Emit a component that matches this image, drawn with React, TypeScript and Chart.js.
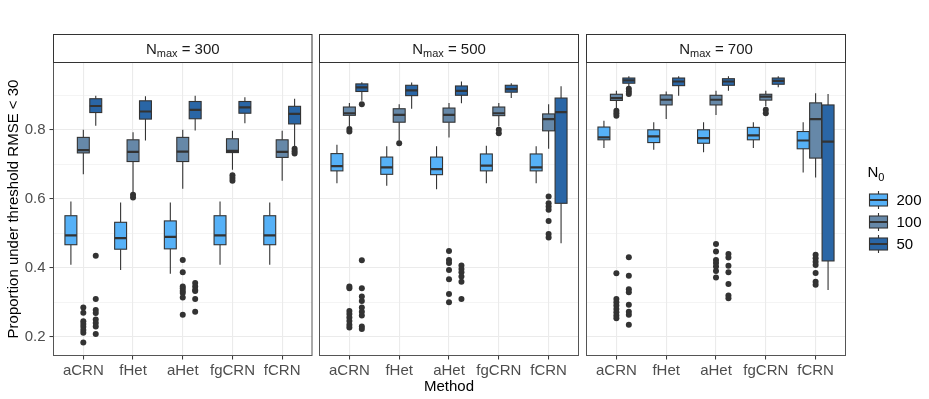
import React, { useEffect, useRef } from 'react';
import { Chart, registerables } from 'chart.js';

Chart.register(...registerables);

// ---------------- data ----------------
const methods = ['aCRN', 'fHet', 'aHet', 'fgCRN', 'fCRN'];
const nmaxValues = [300, 500, 700];
const n0Labels = ['200', '100', '50'];
const yTickLabels = [0.2, 0.4, 0.6, 0.8];
const yAxisTitle = 'Proportion under threshold RMSE < 30';
const xAxisTitle = 'Method';

// [lower whisker, Q1, median, Q3, upper whisker] for each method
const box300_n200 = [
  [0.409, 0.467, 0.494, 0.551, 0.592],
  [0.394, 0.454, 0.486, 0.532, 0.589],
  [0.383, 0.455, 0.490, 0.536, 0.589],
  [0.409, 0.467, 0.494, 0.551, 0.592],
  [0.409, 0.467, 0.494, 0.551, 0.589],
];
const box300_n100 = [
  [0.671, 0.733, 0.741, 0.778, 0.800],
  [0.616, 0.708, 0.736, 0.771, 0.793],
  [0.629, 0.708, 0.737, 0.778, 0.800],
  [0.684, 0.734, 0.739, 0.774, 0.797],
  [0.652, 0.720, 0.736, 0.771, 0.797],
];
const box300_n50 = [
  [0.812, 0.850, 0.869, 0.890, 0.899],
  [0.769, 0.831, 0.853, 0.884, 0.897],
  [0.798, 0.832, 0.858, 0.882, 0.899],
  [0.819, 0.848, 0.865, 0.882, 0.894],
  [0.752, 0.817, 0.846, 0.868, 0.890],
];

const box500_n200 = [
  [0.645, 0.681, 0.695, 0.731, 0.757],
  [0.638, 0.671, 0.691, 0.721, 0.752],
  [0.628, 0.670, 0.686, 0.721, 0.752],
  [0.645, 0.681, 0.696, 0.730, 0.754],
  [0.645, 0.681, 0.691, 0.730, 0.752],
];
const box500_n100 = [
  [0.810, 0.842, 0.848, 0.866, 0.878],
  [0.768, 0.822, 0.843, 0.861, 0.874],
  [0.778, 0.822, 0.843, 0.863, 0.878],
  [0.810, 0.841, 0.848, 0.866, 0.878],
  [0.745, 0.797, 0.831, 0.846, 0.874],
];
const box500_n50 = [
  [0.884, 0.911, 0.923, 0.933, 0.938],
  [0.861, 0.899, 0.914, 0.929, 0.937],
  [0.877, 0.900, 0.913, 0.927, 0.940],
  [0.892, 0.909, 0.918, 0.929, 0.935],
  [0.471, 0.587, 0.851, 0.892, 0.926],
];

const box700_n200 = [
  [0.747, 0.771, 0.778, 0.808, 0.826],
  [0.742, 0.763, 0.781, 0.800, 0.822],
  [0.735, 0.761, 0.776, 0.800, 0.822],
  [0.747, 0.771, 0.784, 0.807, 0.822],
  [0.676, 0.745, 0.769, 0.795, 0.822],
];
const box700_n100 = [
  [0.861, 0.885, 0.892, 0.903, 0.913],
  [0.831, 0.872, 0.887, 0.901, 0.911],
  [0.843, 0.872, 0.887, 0.900, 0.913],
  [0.868, 0.886, 0.896, 0.903, 0.913],
  [0.662, 0.718, 0.831, 0.878, 0.906],
];
const box700_n50 = [
  [0.923, 0.935, 0.943, 0.950, 0.955],
  [0.899, 0.928, 0.940, 0.950, 0.955],
  [0.913, 0.929, 0.940, 0.948, 0.955],
  [0.923, 0.932, 0.942, 0.950, 0.955],
  [0.336, 0.420, 0.766, 0.872, 0.904],
];

// outliers: [method index, N0 index (0=200,1=100,2=50), value]
const out300 = [
  [0, 1, 0.285], [0, 1, 0.270], [0, 1, 0.245], [0, 1, 0.237], [0, 1, 0.229], [0, 1, 0.220], [0, 1, 0.212], [0, 1, 0.184],
  [0, 2, 0.435], [0, 2, 0.310], [0, 2, 0.278], [0, 2, 0.269], [0, 2, 0.250], [0, 2, 0.240], [0, 2, 0.230], [0, 2, 0.208],
  [1, 1, 0.612], [1, 1, 0.604],
  [2, 1, 0.423], [2, 1, 0.387], [2, 1, 0.346], [2, 1, 0.340], [2, 1, 0.333], [2, 1, 0.327], [2, 1, 0.314], [2, 1, 0.264],
  [2, 2, 0.356], [2, 2, 0.346], [2, 2, 0.336], [2, 2, 0.333], [2, 2, 0.310], [2, 2, 0.273],
  [3, 1, 0.668], [3, 1, 0.660], [3, 1, 0.652],
  [4, 2, 0.745], [4, 2, 0.738], [4, 2, 0.731],
];
const out500 = [
  [0, 1, 0.802], [0, 1, 0.795], [0, 1, 0.346], [0, 1, 0.341], [0, 1, 0.275], [0, 1, 0.266], [0, 1, 0.256], [0, 1, 0.246], [0, 1, 0.235], [0, 1, 0.227],
  [0, 2, 0.874], [0, 2, 0.422], [0, 2, 0.341], [0, 2, 0.317], [0, 2, 0.304], [0, 2, 0.285], [0, 2, 0.273], [0, 2, 0.262], [0, 2, 0.230], [0, 2, 0.223],
  [1, 1, 0.761],
  [2, 1, 0.449], [2, 1, 0.423], [2, 1, 0.414], [2, 1, 0.394], [2, 1, 0.367], [2, 1, 0.324], [2, 1, 0.300],
  [2, 2, 0.407], [2, 2, 0.397], [2, 2, 0.387], [2, 2, 0.375], [2, 2, 0.360], [2, 2, 0.310],
  [3, 1, 0.800], [3, 1, 0.790],
  [4, 1, 0.607], [4, 1, 0.587], [4, 1, 0.578], [4, 1, 0.568], [4, 1, 0.536], [4, 1, 0.498], [4, 1, 0.488],
];
const out700 = [
  [0, 1, 0.855], [0, 1, 0.848], [0, 1, 0.841], [0, 1, 0.384], [0, 1, 0.310], [0, 1, 0.300], [0, 1, 0.291], [0, 1, 0.281], [0, 1, 0.271], [0, 1, 0.262], [0, 1, 0.254],
  [0, 2, 0.919], [0, 2, 0.911], [0, 2, 0.904], [0, 2, 0.431], [0, 2, 0.377], [0, 2, 0.338], [0, 2, 0.329], [0, 2, 0.293], [0, 2, 0.273], [0, 2, 0.264], [0, 2, 0.235],
  [2, 1, 0.469], [2, 1, 0.447], [2, 1, 0.423], [2, 1, 0.414], [2, 1, 0.404], [2, 1, 0.391], [2, 1, 0.372],
  [2, 2, 0.440], [2, 2, 0.430], [2, 2, 0.406], [2, 2, 0.387], [2, 2, 0.353], [2, 2, 0.320], [2, 2, 0.312],
  [3, 1, 0.858], [3, 1, 0.848],
  [4, 1, 0.438], [4, 1, 0.428], [4, 1, 0.418], [4, 1, 0.408], [4, 1, 0.385], [4, 1, 0.360], [4, 1, 0.351],
];

const boxStats = [
  [box300_n200, box300_n100, box300_n50],
  [box500_n200, box500_n100, box500_n50],
  [box700_n200, box700_n100, box700_n50],
];
const outliers = [out300, out500, out700];

// ---------------- layout & style ----------------
const W = 929;
const H = 399;
const FONT = '"Liberation Sans", Arial, Helvetica, sans-serif';
const PANEL_X = [
  [53.5, 312],
  [319.5, 578.5],
  [586.5, 845.5],
];
const PLOT_TOP = 62.5;
const PLOT_BOTTOM = 355.5;
const STRIP_TOP = 34.5;
const Y_MIN = 0.146;
const Y_MAX = 0.995;
const OFFSETS = [-0.25, 0, 0.25];
const BOX_W = 0.24;
const FILLS = ['#56B1F7', '#6688A8', '#2A66A6'];
const LINE = '#333333';
const GRID = '#EBEBEB';

const isMajorY = (v: number) => yTickLabels.some((t) => Math.abs(t - v) < 1e-6);

function drawBox(ctx: CanvasRenderingContext2D, xl: number, xr: number, xc: number, p: number[], fill: string) {
  const [lo, q1, md, q3, hi] = p;
  ctx.strokeStyle = LINE;
  ctx.lineWidth = 1.1;
  ctx.beginPath();
  ctx.moveTo(xc, lo);
  ctx.lineTo(xc, q1);
  ctx.moveTo(xc, q3);
  ctx.lineTo(xc, hi);
  ctx.stroke();
  ctx.fillStyle = fill;
  ctx.fillRect(xl, q3, xr - xl, q1 - q3);
  ctx.strokeRect(xl, q3, xr - xl, q1 - q3);
  ctx.lineWidth = 2.2;
  ctx.beginPath();
  ctx.moveTo(xl, md);
  ctx.lineTo(xr, md);
  ctx.stroke();
}

function panelPlugin(pi: number) {
  return {
    id: 'facetPanel' + pi,
    beforeDatasetsDraw(chart: any) {
      const { ctx, chartArea: a, scales } = chart;
      const x = scales.x;
      const y = scales.y;
      ctx.save();
      ctx.beginPath();
      ctx.rect(a.left, a.top, a.right - a.left, a.bottom - a.top);
      ctx.clip();
      boxStats[pi].forEach((stats, g) => {
        stats.forEach((s, i) => {
          const c = i + 1 + OFFSETS[g];
          const xl = x.getPixelForValue(c - BOX_W / 2);
          const xr = x.getPixelForValue(c + BOX_W / 2);
          const xc = x.getPixelForValue(c);
          drawBox(ctx, xl, xr, xc, s.map((v) => y.getPixelForValue(v)), FILLS[g]);
        });
      });
      ctx.restore();
    },
    afterDraw(chart: any) {
      const { ctx, chartArea: a } = chart;
      ctx.save();
      // panel border
      ctx.strokeStyle = '#555555';
      ctx.lineWidth = 1;
      ctx.strokeRect(a.left, a.top, a.right - a.left, a.bottom - a.top);
      // strip
      ctx.fillStyle = '#ffffff';
      ctx.fillRect(a.left, STRIP_TOP, a.right - a.left, a.top - STRIP_TOP);
      ctx.strokeStyle = '#333333';
      ctx.strokeRect(a.left, STRIP_TOP, a.right - a.left, a.top - STRIP_TOP);
      const cx = (a.left + a.right) / 2;
      const rest = ' = ' + nmaxValues[pi];
      ctx.font = `15px ${FONT}`;
      const wN = ctx.measureText('N').width;
      const wR = ctx.measureText(rest).width;
      ctx.font = `11px ${FONT}`;
      const wS = ctx.measureText('max').width;
      let x0 = cx - (wN + wS + wR) / 2;
      ctx.fillStyle = '#1A1A1A';
      ctx.textAlign = 'left';
      ctx.textBaseline = 'alphabetic';
      ctx.font = `15px ${FONT}`;
      ctx.fillText('N', x0, 53.5);
      ctx.font = `11px ${FONT}`;
      ctx.fillText('max', x0 + wN, 56.5);
      ctx.font = `15px ${FONT}`;
      ctx.fillText(rest, x0 + wN + wS, 53.5);

      if (pi === 2) {
        // legend
        ctx.fillStyle = '#000000';
        ctx.font = `15px ${FONT}`;
        ctx.fillText('N', 867.5, 177);
        const wl = ctx.measureText('N').width;
        ctx.font = `11px ${FONT}`;
        ctx.fillText('0', 867.5 + wl, 180.5);
        const keyY = [200, 222, 244];
        n0Labels.forEach((lab, g) => {
          const yc = keyY[g];
          const kx = 878.5;
          ctx.strokeStyle = LINE;
          ctx.lineWidth = 1.1;
          ctx.beginPath();
          ctx.moveTo(kx, yc - 9);
          ctx.lineTo(kx, yc - 6);
          ctx.moveTo(kx, yc + 6);
          ctx.lineTo(kx, yc + 9);
          ctx.stroke();
          ctx.fillStyle = FILLS[g];
          ctx.fillRect(kx - 9, yc - 6, 18, 12);
          ctx.strokeRect(kx - 9, yc - 6, 18, 12);
          ctx.lineWidth = 2;
          ctx.beginPath();
          ctx.moveTo(kx - 9, yc);
          ctx.lineTo(kx + 9, yc);
          ctx.stroke();
          ctx.fillStyle = '#000000';
          ctx.font = `15px ${FONT}`;
          ctx.textBaseline = 'middle';
          ctx.fillText(lab, 896.5, yc + 0.5);
          ctx.textBaseline = 'alphabetic';
        });
      }
      ctx.restore();
    },
  };
}

function makeConfig(pi: number): any {
  const [left, right] = PANEL_X[pi];
  const outl = outliers[pi];
  return {
    type: 'scatter',
    data: {
      datasets: n0Labels.map((lab, g) => ({
        label: lab,
        data: outl
          .filter((o) => o[1] === g)
          .map((o) => ({ x: o[0] + 1 + OFFSETS[g], y: o[2] })),
        pointRadius: 3,
        pointHoverRadius: 3,
        pointBackgroundColor: '#333333',
        pointBorderWidth: 0,
        borderWidth: 0,
      })),
    },
    options: {
      animation: false,
      responsive: false,
      events: [],
      layout: {
        autoPadding: false,
        padding: { left: pi === 0 ? 0 : left, right: W - right, top: PLOT_TOP, bottom: 0 },
      },
      plugins: { legend: { display: false }, tooltip: { enabled: false } },
      scales: {
        x: {
          type: 'linear',
          position: 'bottom',
          min: 0.4,
          max: 5.6,
          afterFit: (s: any) => {
            s.height = H - PLOT_BOTTOM;
          },
          border: { display: false },
          grid: {
            color: GRID,
            lineWidth: 1.1,
            drawTicks: true,
            tickLength: 4,
            tickColor: LINE,
            tickWidth: 1,
          },
          ticks: {
            stepSize: 1,
            includeBounds: false,
            autoSkip: false,
            maxRotation: 0,
            minRotation: 0,
            padding: 2,
            color: '#4D4D4D',
            font: { family: FONT, size: 15 },
            callback: (v: number) => methods[Math.round(v) - 1] ?? '',
          },
          title: {
            display: pi === 1,
            text: xAxisTitle,
            color: '#000000',
            font: { family: FONT, size: 15 },
            padding: { top: 0, bottom: 3.3 },
          },
        },
        y: {
          type: 'linear',
          position: 'left',
          min: Y_MIN,
          max: Y_MAX,
          afterFit: (s: any) => {
            s.width = pi === 0 ? left : 0;
          },
          border: { display: false },
          grid: {
            color: GRID,
            lineWidth: (c: any) => (c.tick && isMajorY(c.tick.value) ? 1.1 : 0.55),
            drawTicks: pi === 0,
            tickLength: 4,
            tickColor: (c: any) => (c.tick && isMajorY(c.tick.value) ? LINE : 'rgba(0,0,0,0)'),
            tickWidth: 1,
          },
          ticks: {
            display: pi === 0,
            stepSize: 0.1,
            includeBounds: false,
            padding: 4,
            color: '#4D4D4D',
            font: { family: FONT, size: 15 },
            callback: (v: number) => (isMajorY(v) ? String(Math.round(v * 10) / 10) : ''),
          },
          title: {
            display: pi === 0,
            text: yAxisTitle,
            color: '#000000',
            font: { family: FONT, size: 15 },
            padding: { top: 4.5, bottom: 0 },
          },
        },
      },
    },
    plugins: [panelPlugin(pi)],
  };
}

function Panel({ index }: { index: number }) {
  const ref = useRef<HTMLCanvasElement>(null);
  useEffect(() => {
    const chart = new Chart(ref.current as HTMLCanvasElement, makeConfig(index));
    return () => chart.destroy();
  }, [index]);
  return (
    <canvas
      ref={ref}
      width={W}
      height={H}
      style={{ position: 'absolute', left: 0, top: 0, width: W, height: H }}
    />
  );
}

export default function App() {
  return (
    <div
      style={{
        position: 'absolute',
        left: 0,
        top: 0,
        width: W,
        height: H,
        background: '#ffffff',
        overflow: 'hidden',
      }}
    >
      {[0, 1, 2].map((i) => (
        <Panel key={i} index={i} />
      ))}
    </div>
  );
}
